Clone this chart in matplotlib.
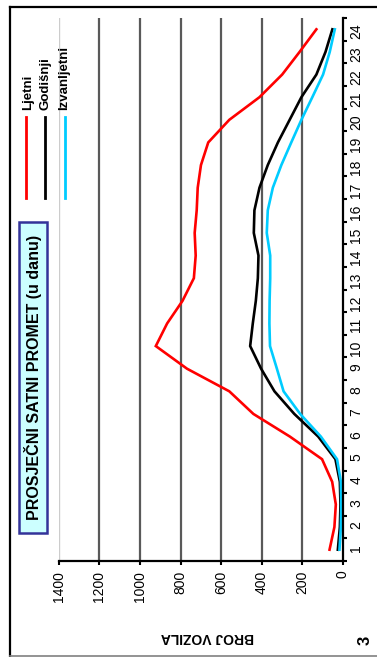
import matplotlib
matplotlib.use('Agg')
import matplotlib.pyplot as plt
from matplotlib.lines import Line2D
from matplotlib.patches import Rectangle
import numpy as np

plt.rcParams['font.family'] = ['Liberation Sans', 'DejaVu Sans']

#-----------
# DATA
#-----------
hours = list(range(1, 25))
ljetni = [64, 40, 33, 51, 101, 260, 440, 559, 768, 922, 866, 790,
          734, 725, 730, 720, 715, 699, 663, 559, 410, 298, 212, 129]
godisnji = [23, 13, 10, 13, 35, 120, 238, 336, 402, 456, 443, 428,
            418, 415, 438, 435, 410, 369, 319, 261, 203, 129, 84, 50]
izvanljetni = [15, 8, 6, 8, 27, 107, 209, 291, 324, 358, 361, 360,
               357, 357, 374, 369, 344, 302, 253, 203, 149, 96, 63, 38]
value_ticks = [0, 200, 400, 600, 800, 1000, 1200, 1400]
series_names = ['Ljetni', 'Godišnji', 'Izvanljetni']
series_colors = ['#ff0000', '#000000', '#00ccff']
title = 'PROSJEČNI SATNI PROMET (u danu)'
value_label = 'BROJ VOZILA'
page_no = '3'

#-----------
# HELPERS
#-----------
W, H = 377, 657

def fx(px):
  return px / W

def fy(py):
  return 1 - py / H

#-----------
# PLOT
#-----------
fig = plt.figure(figsize=(W / 100, H / 100), dpi=100)

# page frame
fig.add_artist(Line2D([fx(10), fx(377)], [fy(7), fy(7)], color='black', lw=1.6))
fig.add_artist(Line2D([fx(10), fx(10)], [fy(7), fy(656)], color='black', lw=1.6))
fig.add_artist(Line2D([fx(10), fx(377)], [fy(656), fy(656)], color='#808080', lw=1.2))

# the page is turned: values run right-to-left, hours bottom-to-top
ax = fig.add_axes([fx(59), fy(561), fx(342.5) - fx(59), fy(18) - fy(561)])
for v in value_ticks[1:-1]:
  ax.axvline(v, color='#595959', lw=1.6, zorder=0)
ax.axvline(1400, color='#cccccc', lw=1.0, zorder=0)

for vals, c in zip([ljetni, godisnji, izvanljetni], series_colors):
  ax.plot(vals, hours, color=c, lw=1.9, solid_joinstyle='miter')

ax.set_xlim(1400, 0)
ax.set_ylim(0.5, 24.5)

for s in ['top', 'left']:
  ax.spines[s].set_visible(False)
for s in ['right', 'bottom']:
  ax.spines[s].set_linewidth(1.6)

ax.yaxis.tick_right()
ax.set_yticks(np.arange(0.5, 25, 1))
ax.set_yticklabels([])
ax.set_yticks(hours, minor=True)
ax.set_yticklabels([str(h) for h in hours], minor=True, rotation=90, fontsize=10)
ax.tick_params(axis='y', which='major', length=3, width=1.5, direction='out')
ax.tick_params(axis='y', which='minor', length=0, pad=5)

ax.set_xticks(value_ticks)
ax.set_xticklabels([str(v) for v in value_ticks], rotation=90, fontsize=10)
ax.tick_params(axis='x', length=3, width=1.5, direction='out', pad=4)

# title box
fig.add_artist(Rectangle((fx(19.3), fy(533)), fx(47.3) - fx(19.3), fy(221.7) - fy(533),
                         transform=fig.transFigure, facecolor='#ccffff',
                         edgecolor='#333399', lw=1.8))
fig.text(fx(33.5), fy(377), title, rotation=90, ha='center', va='center',
         fontsize=11.5, fontweight='bold')

# legend
for name, c, tx, lx in zip(series_names, series_colors, [28, 45, 64], [26, 45, 65]):
  fig.text(fx(tx), fy(110), name, rotation=90, ha='center', va='bottom',
           fontsize=9.5, fontweight='bold')
  fig.add_artist(Line2D([fx(lx), fx(lx)], [fy(117), fy(198)], color=c, lw=2))

fig.text(fx(207), fy(637), value_label, rotation=180, ha='center', va='center',
         fontsize=10, fontweight='bold')
fig.text(fx(365), fy(640), page_no, rotation=90, ha='center', va='center',
         fontsize=12, fontweight='bold')

fig.savefig('out.png', dpi=100)
